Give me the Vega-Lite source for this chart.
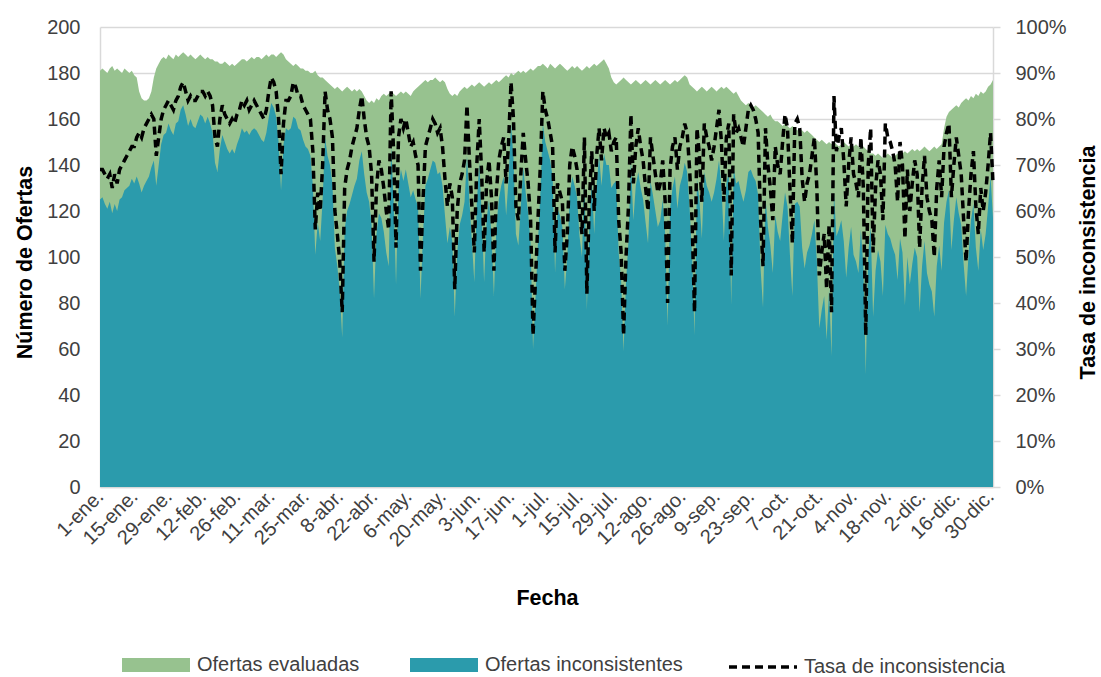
{
"$schema": "https://vega.github.io/schema/vega-lite/v6.json",
"width": 893, "height": 460,
"autosize": {"type": "none"},
"padding": {"left": 100, "top": 27, "right": 108, "bottom": 190},
"background": "white",
"config": {
  "view": {"stroke": null},
  "font": "'Liberation Sans', Arial, sans-serif",
  "axis": {"labelFontSize": 20, "labelColor": "#404040", "titleFontSize": 21.5, "titleFontWeight": "bold", "titleColor": "#000000", "domainColor": "#d9d9d9", "domainWidth": 1.5, "gridColor": "#d9d9d9", "gridWidth": 1.5, "tickColor": "#d9d9d9", "tickWidth": 1.5},
  "legend": {"labelFontSize": 20, "labelColor": "#404040", "labelLimit": 0}
},
"data": {"values": [
{"d":"2024-01-01","ev":181,"inc":125,"tasa":0.69},{"d":"2024-01-02","ev":182,"inc":126,"tasa":0.69},{"d":"2024-01-03","ev":181,"inc":123,"tasa":0.68},{"d":"2024-01-04","ev":180,"inc":121,"tasa":0.67},{"d":"2024-01-05","ev":182,"inc":124,"tasa":0.68},{"d":"2024-01-06","ev":183,"inc":119,"tasa":0.65},{"d":"2024-01-07","ev":181,"inc":123,"tasa":0.68},{"d":"2024-01-08","ev":182,"inc":120,"tasa":0.66},{"d":"2024-01-09","ev":181,"inc":125,"tasa":0.69},{"d":"2024-01-10","ev":180,"inc":126,"tasa":0.70},{"d":"2024-01-11","ev":182,"inc":129,"tasa":0.71},{"d":"2024-01-12","ev":181,"inc":130,"tasa":0.72},{"d":"2024-01-13","ev":180,"inc":131,"tasa":0.73},{"d":"2024-01-14","ev":181,"inc":134,"tasa":0.74},{"d":"2024-01-15","ev":179,"inc":132,"tasa":0.74},{"d":"2024-01-16","ev":178,"inc":135,"tasa":0.76},{"d":"2024-01-17","ev":172,"inc":132,"tasa":0.77},{"d":"2024-01-18","ev":169,"inc":128,"tasa":0.76},{"d":"2024-01-19","ev":168,"inc":131,"tasa":0.78},{"d":"2024-01-20","ev":168,"inc":133,"tasa":0.79},{"d":"2024-01-21","ev":169,"inc":135,"tasa":0.80},{"d":"2024-01-22","ev":172,"inc":139,"tasa":0.81},{"d":"2024-01-23","ev":178,"inc":142,"tasa":0.80},{"d":"2024-01-24","ev":182,"inc":131,"tasa":0.72},{"d":"2024-01-25","ev":184,"inc":140,"tasa":0.76},{"d":"2024-01-26","ev":186,"inc":149,"tasa":0.80},{"d":"2024-01-27","ev":187,"inc":153,"tasa":0.82},{"d":"2024-01-28","ev":186,"inc":154,"tasa":0.83},{"d":"2024-01-29","ev":188,"inc":158,"tasa":0.84},{"d":"2024-01-30","ev":187,"inc":155,"tasa":0.83},{"d":"2024-01-31","ev":186,"inc":153,"tasa":0.82},
{"d":"2024-02-01","ev":188,"inc":158,"tasa":0.84},{"d":"2024-02-02","ev":187,"inc":159,"tasa":0.85},{"d":"2024-02-03","ev":188,"inc":164,"tasa":0.87},{"d":"2024-02-04","ev":189,"inc":166,"tasa":0.88},{"d":"2024-02-05","ev":188,"inc":162,"tasa":0.86},{"d":"2024-02-06","ev":187,"inc":157,"tasa":0.84},{"d":"2024-02-07","ev":188,"inc":160,"tasa":0.85},{"d":"2024-02-08","ev":187,"inc":157,"tasa":0.84},{"d":"2024-02-09","ev":186,"inc":156,"tasa":0.84},{"d":"2024-02-10","ev":187,"inc":159,"tasa":0.85},{"d":"2024-02-11","ev":188,"inc":162,"tasa":0.86},{"d":"2024-02-12","ev":187,"inc":161,"tasa":0.86},{"d":"2024-02-13","ev":186,"inc":158,"tasa":0.85},{"d":"2024-02-14","ev":187,"inc":161,"tasa":0.86},{"d":"2024-02-15","ev":186,"inc":158,"tasa":0.85},{"d":"2024-02-16","ev":186,"inc":154,"tasa":0.83},{"d":"2024-02-17","ev":185,"inc":141,"tasa":0.76},{"d":"2024-02-18","ev":185,"inc":137,"tasa":0.74},{"d":"2024-02-19","ev":184,"inc":147,"tasa":0.80},{"d":"2024-02-20","ev":184,"inc":153,"tasa":0.83},{"d":"2024-02-21","ev":185,"inc":150,"tasa":0.81},{"d":"2024-02-22","ev":184,"inc":147,"tasa":0.80},{"d":"2024-02-23","ev":183,"inc":145,"tasa":0.79},{"d":"2024-02-24","ev":184,"inc":147,"tasa":0.80},{"d":"2024-02-25","ev":183,"inc":145,"tasa":0.79},{"d":"2024-02-26","ev":184,"inc":149,"tasa":0.81},{"d":"2024-02-27","ev":185,"inc":152,"tasa":0.82},{"d":"2024-02-28","ev":186,"inc":156,"tasa":0.84},{"d":"2024-02-29","ev":186,"inc":154,"tasa":0.83},
{"d":"2024-03-01","ev":185,"inc":155,"tasa":0.84},{"d":"2024-03-02","ev":186,"inc":153,"tasa":0.82},{"d":"2024-03-03","ev":187,"inc":155,"tasa":0.83},{"d":"2024-03-04","ev":186,"inc":156,"tasa":0.84},{"d":"2024-03-05","ev":187,"inc":155,"tasa":0.83},{"d":"2024-03-06","ev":187,"inc":153,"tasa":0.82},{"d":"2024-03-07","ev":186,"inc":151,"tasa":0.81},{"d":"2024-03-08","ev":187,"inc":150,"tasa":0.80},{"d":"2024-03-09","ev":188,"inc":154,"tasa":0.82},{"d":"2024-03-10","ev":187,"inc":161,"tasa":0.86},{"d":"2024-03-11","ev":188,"inc":167,"tasa":0.89},{"d":"2024-03-12","ev":188,"inc":165,"tasa":0.88},{"d":"2024-03-13","ev":187,"inc":161,"tasa":0.86},{"d":"2024-03-14","ev":188,"inc":150,"tasa":0.80},{"d":"2024-03-15","ev":189,"inc":129,"tasa":0.68},{"d":"2024-03-16","ev":188,"inc":149,"tasa":0.79},{"d":"2024-03-17","ev":186,"inc":156,"tasa":0.84},{"d":"2024-03-18","ev":185,"inc":155,"tasa":0.84},{"d":"2024-03-19","ev":184,"inc":156,"tasa":0.85},{"d":"2024-03-20","ev":183,"inc":161,"tasa":0.88},{"d":"2024-03-21","ev":184,"inc":160,"tasa":0.87},{"d":"2024-03-22","ev":183,"inc":156,"tasa":0.85},{"d":"2024-03-23","ev":182,"inc":155,"tasa":0.85},{"d":"2024-03-24","ev":182,"inc":151,"tasa":0.83},{"d":"2024-03-25","ev":181,"inc":148,"tasa":0.82},{"d":"2024-03-26","ev":181,"inc":147,"tasa":0.81},{"d":"2024-03-27","ev":180,"inc":144,"tasa":0.80},{"d":"2024-03-28","ev":180,"inc":131,"tasa":0.73},{"d":"2024-03-29","ev":181,"inc":101,"tasa":0.56},{"d":"2024-03-30","ev":179,"inc":115,"tasa":0.64},{"d":"2024-03-31","ev":178,"inc":107,"tasa":0.60},
{"d":"2024-04-01","ev":178,"inc":125,"tasa":0.70},{"d":"2024-04-02","ev":177,"inc":152,"tasa":0.86},{"d":"2024-04-03","ev":176,"inc":144,"tasa":0.82},{"d":"2024-04-04","ev":175,"inc":140,"tasa":0.80},{"d":"2024-04-05","ev":174,"inc":132,"tasa":0.76},{"d":"2024-04-06","ev":173,"inc":104,"tasa":0.60},{"d":"2024-04-07","ev":174,"inc":96,"tasa":0.55},{"d":"2024-04-08","ev":173,"inc":85,"tasa":0.49},{"d":"2024-04-09","ev":172,"inc":65,"tasa":0.38},{"d":"2024-04-10","ev":173,"inc":112,"tasa":0.65},{"d":"2024-04-11","ev":174,"inc":120,"tasa":0.69},{"d":"2024-04-12","ev":173,"inc":123,"tasa":0.71},{"d":"2024-04-13","ev":172,"inc":127,"tasa":0.74},{"d":"2024-04-14","ev":173,"inc":131,"tasa":0.76},{"d":"2024-04-15","ev":172,"inc":134,"tasa":0.78},{"d":"2024-04-16","ev":173,"inc":142,"tasa":0.82},{"d":"2024-04-17","ev":172,"inc":146,"tasa":0.85},{"d":"2024-04-18","ev":170,"inc":136,"tasa":0.80},{"d":"2024-04-19","ev":168,"inc":128,"tasa":0.76},{"d":"2024-04-20","ev":167,"inc":124,"tasa":0.74},{"d":"2024-04-21","ev":168,"inc":114,"tasa":0.68},{"d":"2024-04-22","ev":167,"inc":82,"tasa":0.49},{"d":"2024-04-23","ev":169,"inc":110,"tasa":0.65},{"d":"2024-04-24","ev":168,"inc":119,"tasa":0.71},{"d":"2024-04-25","ev":170,"inc":117,"tasa":0.69},{"d":"2024-04-26","ev":171,"inc":111,"tasa":0.65},{"d":"2024-04-27","ev":170,"inc":102,"tasa":0.60},{"d":"2024-04-28","ev":171,"inc":96,"tasa":0.56},{"d":"2024-04-29","ev":172,"inc":148,"tasa":0.86},{"d":"2024-04-30","ev":171,"inc":125,"tasa":0.73},
{"d":"2024-05-01","ev":170,"inc":88,"tasa":0.52},{"d":"2024-05-02","ev":171,"inc":130,"tasa":0.76},{"d":"2024-05-03","ev":172,"inc":138,"tasa":0.80},{"d":"2024-05-04","ev":171,"inc":133,"tasa":0.78},{"d":"2024-05-05","ev":172,"inc":138,"tasa":0.80},{"d":"2024-05-06","ev":171,"inc":132,"tasa":0.77},{"d":"2024-05-07","ev":170,"inc":126,"tasa":0.74},{"d":"2024-05-08","ev":172,"inc":129,"tasa":0.75},{"d":"2024-05-09","ev":173,"inc":125,"tasa":0.72},{"d":"2024-05-10","ev":174,"inc":122,"tasa":0.70},{"d":"2024-05-11","ev":175,"inc":82,"tasa":0.47},{"d":"2024-05-12","ev":176,"inc":109,"tasa":0.62},{"d":"2024-05-13","ev":177,"inc":131,"tasa":0.74},{"d":"2024-05-14","ev":176,"inc":134,"tasa":0.76},{"d":"2024-05-15","ev":177,"inc":138,"tasa":0.78},{"d":"2024-05-16","ev":177,"inc":142,"tasa":0.80},{"d":"2024-05-17","ev":178,"inc":141,"tasa":0.79},{"d":"2024-05-18","ev":177,"inc":136,"tasa":0.77},{"d":"2024-05-19","ev":176,"inc":137,"tasa":0.78},{"d":"2024-05-20","ev":177,"inc":131,"tasa":0.74},{"d":"2024-05-21","ev":176,"inc":118,"tasa":0.67},{"d":"2024-05-22","ev":173,"inc":106,"tasa":0.61},{"d":"2024-05-23","ev":171,"inc":113,"tasa":0.66},{"d":"2024-05-24","ev":170,"inc":107,"tasa":0.63},{"d":"2024-05-25","ev":171,"inc":74,"tasa":0.43},{"d":"2024-05-26","ev":170,"inc":102,"tasa":0.60},{"d":"2024-05-27","ev":172,"inc":114,"tasa":0.66},{"d":"2024-05-28","ev":173,"inc":118,"tasa":0.68},{"d":"2024-05-29","ev":174,"inc":124,"tasa":0.71},{"d":"2024-05-30","ev":173,"inc":144,"tasa":0.83},{"d":"2024-05-31","ev":174,"inc":124,"tasa":0.71},
{"d":"2024-06-01","ev":175,"inc":107,"tasa":0.61},{"d":"2024-06-02","ev":174,"inc":89,"tasa":0.51},{"d":"2024-06-03","ev":175,"inc":123,"tasa":0.70},{"d":"2024-06-04","ev":176,"inc":141,"tasa":0.80},{"d":"2024-06-05","ev":175,"inc":119,"tasa":0.68},{"d":"2024-06-06","ev":174,"inc":89,"tasa":0.51},{"d":"2024-06-07","ev":175,"inc":116,"tasa":0.66},{"d":"2024-06-08","ev":176,"inc":125,"tasa":0.71},{"d":"2024-06-09","ev":175,"inc":110,"tasa":0.63},{"d":"2024-06-10","ev":176,"inc":83,"tasa":0.47},{"d":"2024-06-11","ev":177,"inc":113,"tasa":0.64},{"d":"2024-06-12","ev":176,"inc":125,"tasa":0.71},{"d":"2024-06-13","ev":177,"inc":131,"tasa":0.74},{"d":"2024-06-14","ev":178,"inc":135,"tasa":0.76},{"d":"2024-06-15","ev":179,"inc":118,"tasa":0.66},{"d":"2024-06-16","ev":178,"inc":134,"tasa":0.75},{"d":"2024-06-17","ev":180,"inc":158,"tasa":0.88},{"d":"2024-06-18","ev":179,"inc":143,"tasa":0.80},{"d":"2024-06-19","ev":180,"inc":110,"tasa":0.61},{"d":"2024-06-20","ev":181,"inc":105,"tasa":0.58},{"d":"2024-06-21","ev":180,"inc":122,"tasa":0.68},{"d":"2024-06-22","ev":181,"inc":139,"tasa":0.77},{"d":"2024-06-23","ev":180,"inc":128,"tasa":0.71},{"d":"2024-06-24","ev":181,"inc":119,"tasa":0.66},{"d":"2024-06-25","ev":182,"inc":106,"tasa":0.58},{"d":"2024-06-26","ev":181,"inc":60,"tasa":0.33},{"d":"2024-06-27","ev":182,"inc":82,"tasa":0.45},{"d":"2024-06-28","ev":183,"inc":106,"tasa":0.58},{"d":"2024-06-29","ev":183,"inc":128,"tasa":0.70},{"d":"2024-06-30","ev":184,"inc":158,"tasa":0.86},
{"d":"2024-07-01","ev":183,"inc":150,"tasa":0.82},{"d":"2024-07-02","ev":182,"inc":146,"tasa":0.80},{"d":"2024-07-03","ev":184,"inc":142,"tasa":0.77},{"d":"2024-07-04","ev":183,"inc":135,"tasa":0.74},{"d":"2024-07-05","ev":182,"inc":93,"tasa":0.51},{"d":"2024-07-06","ev":183,"inc":121,"tasa":0.66},{"d":"2024-07-07","ev":184,"inc":118,"tasa":0.64},{"d":"2024-07-08","ev":183,"inc":113,"tasa":0.62},{"d":"2024-07-09","ev":182,"inc":86,"tasa":0.47},{"d":"2024-07-10","ev":181,"inc":100,"tasa":0.55},{"d":"2024-07-11","ev":182,"inc":127,"tasa":0.70},{"d":"2024-07-12","ev":183,"inc":135,"tasa":0.74},{"d":"2024-07-13","ev":182,"inc":131,"tasa":0.72},{"d":"2024-07-14","ev":183,"inc":126,"tasa":0.69},{"d":"2024-07-15","ev":182,"inc":109,"tasa":0.60},{"d":"2024-07-16","ev":181,"inc":100,"tasa":0.55},{"d":"2024-07-17","ev":182,"inc":138,"tasa":0.76},{"d":"2024-07-18","ev":183,"inc":77,"tasa":0.42},{"d":"2024-07-19","ev":182,"inc":113,"tasa":0.62},{"d":"2024-07-20","ev":183,"inc":134,"tasa":0.73},{"d":"2024-07-21","ev":184,"inc":110,"tasa":0.60},{"d":"2024-07-22","ev":183,"inc":132,"tasa":0.72},{"d":"2024-07-23","ev":184,"inc":144,"tasa":0.78},{"d":"2024-07-24","ev":185,"inc":131,"tasa":0.71},{"d":"2024-07-25","ev":186,"inc":145,"tasa":0.78},{"d":"2024-07-26","ev":184,"inc":140,"tasa":0.76},{"d":"2024-07-27","ev":182,"inc":140,"tasa":0.77},{"d":"2024-07-28","ev":178,"inc":130,"tasa":0.73},{"d":"2024-07-29","ev":176,"inc":132,"tasa":0.75},{"d":"2024-07-30","ev":175,"inc":133,"tasa":0.76},{"d":"2024-07-31","ev":176,"inc":102,"tasa":0.58},
{"d":"2024-08-01","ev":177,"inc":90,"tasa":0.51},{"d":"2024-08-02","ev":178,"inc":59,"tasa":0.33},{"d":"2024-08-03","ev":177,"inc":89,"tasa":0.50},{"d":"2024-08-04","ev":176,"inc":107,"tasa":0.61},{"d":"2024-08-05","ev":175,"inc":142,"tasa":0.81},{"d":"2024-08-06","ev":176,"inc":116,"tasa":0.66},{"d":"2024-08-07","ev":177,"inc":131,"tasa":0.74},{"d":"2024-08-08","ev":176,"inc":137,"tasa":0.78},{"d":"2024-08-09","ev":175,"inc":130,"tasa":0.74},{"d":"2024-08-10","ev":176,"inc":125,"tasa":0.71},{"d":"2024-08-11","ev":177,"inc":115,"tasa":0.65},{"d":"2024-08-12","ev":176,"inc":106,"tasa":0.60},{"d":"2024-08-13","ev":175,"inc":133,"tasa":0.76},{"d":"2024-08-14","ev":176,"inc":127,"tasa":0.72},{"d":"2024-08-15","ev":177,"inc":120,"tasa":0.68},{"d":"2024-08-16","ev":176,"inc":113,"tasa":0.64},{"d":"2024-08-17","ev":175,"inc":116,"tasa":0.66},{"d":"2024-08-18","ev":176,"inc":125,"tasa":0.71},{"d":"2024-08-19","ev":177,"inc":110,"tasa":0.62},{"d":"2024-08-20","ev":176,"inc":70,"tasa":0.40},{"d":"2024-08-21","ev":175,"inc":121,"tasa":0.69},{"d":"2024-08-22","ev":176,"inc":130,"tasa":0.74},{"d":"2024-08-23","ev":177,"inc":135,"tasa":0.76},{"d":"2024-08-24","ev":176,"inc":121,"tasa":0.69},{"d":"2024-08-25","ev":177,"inc":131,"tasa":0.74},{"d":"2024-08-26","ev":178,"inc":135,"tasa":0.76},{"d":"2024-08-27","ev":179,"inc":141,"tasa":0.79},{"d":"2024-08-28","ev":178,"inc":137,"tasa":0.77},{"d":"2024-08-29","ev":175,"inc":121,"tasa":0.69},{"d":"2024-08-30","ev":174,"inc":101,"tasa":0.58},{"d":"2024-08-31","ev":173,"inc":66,"tasa":0.38},
{"d":"2024-09-01","ev":172,"inc":134,"tasa":0.78},{"d":"2024-09-02","ev":173,"inc":125,"tasa":0.72},{"d":"2024-09-03","ev":174,"inc":108,"tasa":0.62},{"d":"2024-09-04","ev":173,"inc":137,"tasa":0.79},{"d":"2024-09-05","ev":172,"inc":131,"tasa":0.76},{"d":"2024-09-06","ev":173,"inc":128,"tasa":0.74},{"d":"2024-09-07","ev":174,"inc":124,"tasa":0.71},{"d":"2024-09-08","ev":173,"inc":128,"tasa":0.74},{"d":"2024-09-09","ev":172,"inc":134,"tasa":0.78},{"d":"2024-09-10","ev":173,"inc":142,"tasa":0.82},{"d":"2024-09-11","ev":174,"inc":131,"tasa":0.75},{"d":"2024-09-12","ev":173,"inc":107,"tasa":0.62},{"d":"2024-09-13","ev":174,"inc":132,"tasa":0.76},{"d":"2024-09-14","ev":173,"inc":137,"tasa":0.79},{"d":"2024-09-15","ev":172,"inc":79,"tasa":0.46},{"d":"2024-09-16","ev":171,"inc":139,"tasa":0.81},{"d":"2024-09-17","ev":172,"inc":132,"tasa":0.77},{"d":"2024-09-18","ev":170,"inc":133,"tasa":0.78},{"d":"2024-09-19","ev":168,"inc":128,"tasa":0.76},{"d":"2024-09-20","ev":167,"inc":124,"tasa":0.74},{"d":"2024-09-21","ev":166,"inc":129,"tasa":0.78},{"d":"2024-09-22","ev":167,"inc":137,"tasa":0.82},{"d":"2024-09-23","ev":166,"inc":138,"tasa":0.83},{"d":"2024-09-24","ev":165,"inc":135,"tasa":0.82},{"d":"2024-09-25","ev":166,"inc":133,"tasa":0.80},{"d":"2024-09-26","ev":165,"inc":127,"tasa":0.77},{"d":"2024-09-27","ev":164,"inc":95,"tasa":0.58},{"d":"2024-09-28","ev":163,"inc":78,"tasa":0.48},{"d":"2024-09-29","ev":162,"inc":126,"tasa":0.78},{"d":"2024-09-30","ev":161,"inc":113,"tasa":0.70},
{"d":"2024-10-01","ev":162,"inc":105,"tasa":0.65},{"d":"2024-10-02","ev":160,"inc":93,"tasa":0.58},{"d":"2024-10-03","ev":159,"inc":118,"tasa":0.74},{"d":"2024-10-04","ev":159,"inc":111,"tasa":0.70},{"d":"2024-10-05","ev":158,"inc":107,"tasa":0.68},{"d":"2024-10-06","ev":157,"inc":118,"tasa":0.75},{"d":"2024-10-07","ev":158,"inc":128,"tasa":0.81},{"d":"2024-10-08","ev":157,"inc":122,"tasa":0.78},{"d":"2024-10-09","ev":156,"inc":101,"tasa":0.65},{"d":"2024-10-10","ev":157,"inc":83,"tasa":0.53},{"d":"2024-10-11","ev":156,"inc":123,"tasa":0.79},{"d":"2024-10-12","ev":155,"inc":124,"tasa":0.80},{"d":"2024-10-13","ev":156,"inc":122,"tasa":0.78},{"d":"2024-10-14","ev":155,"inc":104,"tasa":0.67},{"d":"2024-10-15","ev":154,"inc":95,"tasa":0.62},{"d":"2024-10-16","ev":155,"inc":102,"tasa":0.66},{"d":"2024-10-17","ev":154,"inc":105,"tasa":0.68},{"d":"2024-10-18","ev":153,"inc":110,"tasa":0.72},{"d":"2024-10-19","ev":152,"inc":116,"tasa":0.76},{"d":"2024-10-20","ev":151,"inc":98,"tasa":0.65},{"d":"2024-10-21","ev":150,"inc":69,"tasa":0.46},{"d":"2024-10-22","ev":151,"inc":77,"tasa":0.51},{"d":"2024-10-23","ev":150,"inc":83,"tasa":0.55},{"d":"2024-10-24","ev":149,"inc":64,"tasa":0.43},{"d":"2024-10-25","ev":150,"inc":86,"tasa":0.57},{"d":"2024-10-26","ev":149,"inc":57,"tasa":0.38},{"d":"2024-10-27","ev":150,"inc":128,"tasa":0.85},{"d":"2024-10-28","ev":149,"inc":109,"tasa":0.73},{"d":"2024-10-29","ev":148,"inc":112,"tasa":0.76},{"d":"2024-10-30","ev":149,"inc":116,"tasa":0.78},{"d":"2024-10-31","ev":150,"inc":107,"tasa":0.71},
{"d":"2024-11-01","ev":149,"inc":91,"tasa":0.61},{"d":"2024-11-02","ev":148,"inc":104,"tasa":0.70},{"d":"2024-11-03","ev":149,"inc":113,"tasa":0.76},{"d":"2024-11-04","ev":148,"inc":101,"tasa":0.68},{"d":"2024-11-05","ev":149,"inc":98,"tasa":0.66},{"d":"2024-11-06","ev":148,"inc":93,"tasa":0.63},{"d":"2024-11-07","ev":147,"inc":112,"tasa":0.76},{"d":"2024-11-08","ev":148,"inc":96,"tasa":0.65},{"d":"2024-11-09","ev":147,"inc":49,"tasa":0.33},{"d":"2024-11-10","ev":146,"inc":102,"tasa":0.70},{"d":"2024-11-11","ev":145,"inc":113,"tasa":0.78},{"d":"2024-11-12","ev":145,"inc":74,"tasa":0.51},{"d":"2024-11-13","ev":144,"inc":94,"tasa":0.65},{"d":"2024-11-14","ev":145,"inc":103,"tasa":0.71},{"d":"2024-11-15","ev":144,"inc":98,"tasa":0.68},{"d":"2024-11-16","ev":143,"inc":83,"tasa":0.58},{"d":"2024-11-17","ev":144,"inc":114,"tasa":0.79},{"d":"2024-11-18","ev":145,"inc":110,"tasa":0.76},{"d":"2024-11-19","ev":144,"inc":108,"tasa":0.75},{"d":"2024-11-20","ev":143,"inc":104,"tasa":0.73},{"d":"2024-11-21","ev":144,"inc":101,"tasa":0.70},{"d":"2024-11-22","ev":145,"inc":90,"tasa":0.62},{"d":"2024-11-23","ev":144,"inc":108,"tasa":0.75},{"d":"2024-11-24","ev":145,"inc":102,"tasa":0.70},{"d":"2024-11-25","ev":146,"inc":79,"tasa":0.54},{"d":"2024-11-26","ev":145,"inc":100,"tasa":0.69},{"d":"2024-11-27","ev":146,"inc":88,"tasa":0.60},{"d":"2024-11-28","ev":147,"inc":97,"tasa":0.66},{"d":"2024-11-29","ev":146,"inc":104,"tasa":0.71},{"d":"2024-11-30","ev":147,"inc":100,"tasa":0.68},
{"d":"2024-12-01","ev":146,"inc":76,"tasa":0.52},{"d":"2024-12-02","ev":147,"inc":96,"tasa":0.65},{"d":"2024-12-03","ev":148,"inc":107,"tasa":0.72},{"d":"2024-12-04","ev":147,"inc":93,"tasa":0.63},{"d":"2024-12-05","ev":146,"inc":88,"tasa":0.60},{"d":"2024-12-06","ev":147,"inc":85,"tasa":0.58},{"d":"2024-12-07","ev":148,"inc":74,"tasa":0.50},{"d":"2024-12-08","ev":147,"inc":96,"tasa":0.65},{"d":"2024-12-09","ev":148,"inc":105,"tasa":0.71},{"d":"2024-12-10","ev":149,"inc":94,"tasa":0.63},{"d":"2024-12-11","ev":156,"inc":115,"tasa":0.74},{"d":"2024-12-12","ev":161,"inc":124,"tasa":0.77},{"d":"2024-12-13","ev":163,"inc":129,"tasa":0.79},{"d":"2024-12-14","ev":164,"inc":103,"tasa":0.63},{"d":"2024-12-15","ev":165,"inc":116,"tasa":0.70},{"d":"2024-12-16","ev":166,"inc":126,"tasa":0.76},{"d":"2024-12-17","ev":165,"inc":119,"tasa":0.72},{"d":"2024-12-18","ev":167,"inc":114,"tasa":0.68},{"d":"2024-12-19","ev":168,"inc":97,"tasa":0.58},{"d":"2024-12-20","ev":169,"inc":83,"tasa":0.49},{"d":"2024-12-21","ev":168,"inc":101,"tasa":0.60},{"d":"2024-12-22","ev":170,"inc":116,"tasa":0.68},{"d":"2024-12-23","ev":169,"inc":123,"tasa":0.73},{"d":"2024-12-24","ev":171,"inc":104,"tasa":0.61},{"d":"2024-12-25","ev":170,"inc":94,"tasa":0.55},{"d":"2024-12-26","ev":172,"inc":112,"tasa":0.65},{"d":"2024-12-27","ev":171,"inc":103,"tasa":0.60},{"d":"2024-12-28","ev":172,"inc":110,"tasa":0.64},{"d":"2024-12-29","ev":174,"inc":122,"tasa":0.70},{"d":"2024-12-30","ev":175,"inc":135,"tasa":0.77},{"d":"2024-12-31","ev":177,"inc":117,"tasa":0.66}
]},
"encoding": {
  "x": {"field": "d", "type": "temporal",
    "scale": {"type": "utc", "nice": false, "domain": [{"year":2024,"month":1,"date":1,"utc":true},{"year":2024,"month":12,"date":31,"utc":true}]},
    "axis": {"title": "Fecha", "grid": false, "ticks": false, "labelAngle": -45, "labelAlign": "right", "labelBaseline": "middle", "labelPadding": 6, "labelOverlap": false, "labelBound": false, "labelFlush": false,
      "titleX": 447, "titleY": 111, "titleAnchor": "middle", "titleAlign": "center", "titleBaseline": "middle",
      "values": [{"year":2024,"month":1,"date":1,"utc":true},{"year":2024,"month":1,"date":15,"utc":true},{"year":2024,"month":1,"date":29,"utc":true},{"year":2024,"month":2,"date":12,"utc":true},{"year":2024,"month":2,"date":26,"utc":true},{"year":2024,"month":3,"date":11,"utc":true},{"year":2024,"month":3,"date":25,"utc":true},{"year":2024,"month":4,"date":8,"utc":true},{"year":2024,"month":4,"date":22,"utc":true},{"year":2024,"month":5,"date":6,"utc":true},{"year":2024,"month":5,"date":20,"utc":true},{"year":2024,"month":6,"date":3,"utc":true},{"year":2024,"month":6,"date":17,"utc":true},{"year":2024,"month":7,"date":1,"utc":true},{"year":2024,"month":7,"date":15,"utc":true},{"year":2024,"month":7,"date":29,"utc":true},{"year":2024,"month":8,"date":12,"utc":true},{"year":2024,"month":8,"date":26,"utc":true},{"year":2024,"month":9,"date":9,"utc":true},{"year":2024,"month":9,"date":23,"utc":true},{"year":2024,"month":10,"date":7,"utc":true},{"year":2024,"month":10,"date":21,"utc":true},{"year":2024,"month":11,"date":4,"utc":true},{"year":2024,"month":11,"date":18,"utc":true},{"year":2024,"month":12,"date":2,"utc":true},{"year":2024,"month":12,"date":16,"utc":true},{"year":2024,"month":12,"date":30,"utc":true}],
      "labelExpr": "utcdate(datum.value) + '-' + ['ene','feb','mar','abr','may','jun','jul','ago','sep','oct','nov','dic'][utcmonth(datum.value)] + '.'"}
  }
},
"layer": [
  {"layer": [
    {"mark": {"type": "area", "interpolate": "linear"},
     "encoding": {
       "y": {"field": "ev", "type": "quantitative", "scale": {"domain": [0, 200], "nice": false},
         "axis": {"title": "Número de Ofertas", "values": [0,20,40,60,80,100,120,140,160,180,200], "grid": true, "ticks": false, "labelPadding": 20,
           "titleX": -75, "titleY": 235, "titleAngle": -90, "titleAlign": "center", "titleBaseline": "middle", "titleAnchor": "middle"}},
       "color": {"datum": "Ofertas evaluadas", "type": "nominal",
         "scale": {"domain": ["Ofertas evaluadas", "Ofertas inconsistentes"], "range": ["#97c28f", "#2b9bac"]},
         "legend": {"title": null, "orient": "none", "legendX": 22, "legendY": 604, "direction": "horizontal", "padding": 0,
           "symbolType": "M-1,-0.206H1V0.206H-1Z", "symbolSize": 4624, "symbolStrokeWidth": 0, "symbolOpacity": 1, "labelOffset": 7, "columnPadding": 50}}
     }},
    {"mark": {"type": "area", "interpolate": "linear"},
     "encoding": {
       "y": {"field": "inc", "type": "quantitative", "scale": {"domain": [0, 200], "nice": false},
         "axis": {"title": "Número de Ofertas", "values": [0,20,40,60,80,100,120,140,160,180,200], "grid": true, "ticks": false, "labelPadding": 20,
           "titleX": -75, "titleY": 235, "titleAngle": -90, "titleAlign": "center", "titleBaseline": "middle", "titleAnchor": "middle"}},
       "color": {"datum": "Ofertas inconsistentes", "type": "nominal"}
     }}
  ]},
  {"mark": {"type": "line", "color": "#000000", "strokeWidth": 3.5, "interpolate": "linear"},
   "encoding": {
     "y": {"field": "tasa", "type": "quantitative", "scale": {"domain": [0, 1], "nice": false},
       "axis": {"orient": "right", "title": "Tasa de inconsistencia", "format": ".0%", "values": [0,0.1,0.2,0.3,0.4,0.5,0.6,0.7,0.8,0.9,1], "grid": false, "ticks": true, "tickSize": 7, "labelPadding": 15,
         "titleX": 95, "titleY": 235, "titleAngle": -90, "titleAlign": "center", "titleBaseline": "middle", "titleAnchor": "middle"}},
     "strokeDash": {"datum": "Tasa de inconsistencia", "type": "nominal", "scale": {"range": [[8, 5]]},
       "legend": {"title": null, "orient": "none", "legendX": 627, "legendY": 604, "padding": 0, "symbolType": "stroke", "symbolSize": 4624, "symbolStrokeColor": "#000000", "symbolStrokeWidth": 3.5, "labelOffset": 5}}
   }}
],
"resolve": {"scale": {"y": "independent"}}
}
